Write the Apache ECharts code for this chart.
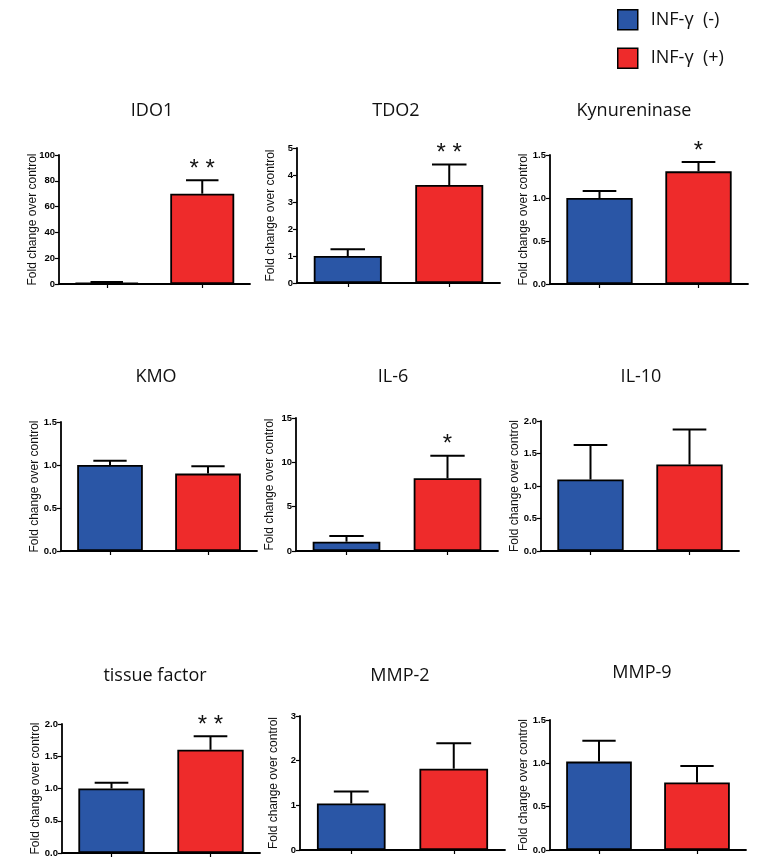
<!DOCTYPE html>
<html><head><meta charset="utf-8">
<script src="https://cdn.jsdelivr.net/npm/echarts@6/dist/echarts.min.js"></script>
<style>html,body{margin:0;padding:0;background:#fff}#c{width:764px;height:864px}</style>
</head><body><div id="c"></div>
<script>
// ---- data ----
const genes = ['IDO1', 'TDO2', 'Kynureninase', 'KMO', 'IL-6', 'IL-10', 'tissue factor', 'MMP-2', 'MMP-9'];
const groups = ['INF-\u03b3  (-)', 'INF-\u03b3  (+)'];
const categories = ['-', '+'];
const negMean = [1.0, 1.0, 1.0, 1.0, 1.05, 1.1, 1.0, 1.04, 1.02];
const negSem  = [0.6, 0.25, 0.08, 0.05, 0.65, 0.53, 0.09, 0.27, 0.24];
const posMean = [70, 3.63, 1.31, 0.9, 8.2, 1.33, 1.6, 1.82, 0.78];
const posSem  = [10.5, 0.76, 0.11, 0.085, 2.55, 0.54, 0.21, 0.57, 0.19];
const negSig  = ['', '', '', '', '', '', '', '', ''];
const posSig  = ['* *', '* *', '*', '', '*', '', '* *', '', ''];
const yMax    = [100, 5, 1.5, 1.5, 15, 2, 2, 3, 1.5];
const yStep   = [20, 1, 0.5, 0.5, 5, 0.5, 0.5, 1, 0.5];
const yDecimals = [0, 0, 1, 1, 0, 1, 1, 0, 1];
const yName = 'Fold change over control';

// ---- layout ----
const layout = [
  {left: 59,  top: 155, width: 191, height: 129, tx: 147, ty: 97},
  {left: 297, top: 148, width: 203, height: 135, tx: 391, ty: 97},
  {left: 550, top: 155, width: 198, height: 129, tx: 629, ty: 97},
  {left: 61,  top: 422, width: 196, height: 129, tx: 151, ty: 363},
  {left: 296, top: 418, width: 202, height: 133, tx: 388, ty: 363},
  {left: 541, top: 421, width: 198, height: 130, tx: 636, ty: 363},
  {left: 62,  top: 724, width: 198, height: 129, tx: 150, ty: 662},
  {left: 300, top: 716, width: 205, height: 134, tx: 395, ty: 662},
  {left: 550, top: 720, width: 196, height: 130, tx: 637, ty: 659}
];
const BLUE = '#2a56a6', RED = '#ee2b2b';
const AXW = 1.8;

const grids = [], xAxes = [], yAxes = [], series = [], titles = [];
genes.forEach((g, i) => {
  const L = layout[i];
  grids.push({left: L.left, top: L.top, width: L.width, height: L.height, containLabel: false});
  titles.push({text: g, left: L.tx, top: L.ty, textAlign: 'center',
    textStyle: {fontFamily: 'Open Sans', fontWeight: 'normal', fontSize: 18, color: '#111'}});
  xAxes.push({type: 'category', gridIndex: i, data: categories, boundaryGap: true,
    axisLine: {lineStyle: {color: '#000', width: AXW}},
    axisTick: {show: true, alignWithLabel: true, length: 4, lineStyle: {color: '#000', width: 1.2}},
    axisLabel: {show: false}, splitLine: {show: false}});
  yAxes.push({type: 'value', gridIndex: i, min: 0, max: yMax[i], interval: yStep[i],
    name: yName, nameLocation: 'middle', nameRotate: 90, nameGap: 20, nameMoveOverlap: false,
    nameTextStyle: {fontFamily: 'Liberation Sans', fontSize: 12, color: '#111'},
    axisLine: {show: true, lineStyle: {color: '#000', width: AXW}},
    axisTick: {show: true, length: 4, inside: false, lineStyle: {color: '#000', width: 1.2}},
    axisLabel: {margin: 4, fontFamily: 'Liberation Sans', fontWeight: 'bold', fontSize: 9.5, color: '#000',
      formatter: v => v.toFixed(yDecimals[i])},
    splitLine: {show: false}});
  series.push({type: 'bar', name: groups[0], xAxisIndex: i, yAxisIndex: i,
    data: [negMean[i], null], barWidth: '67%', barGap: '-100%',
    itemStyle: {color: BLUE, borderColor: '#000', borderWidth: AXW}});
  series.push({type: 'bar', name: groups[1], xAxisIndex: i, yAxisIndex: i,
    data: [null, posMean[i]], barWidth: '67%', barGap: '-100%',
    itemStyle: {color: RED, borderColor: '#000', borderWidth: AXW}});
  series.push({type: 'custom', xAxisIndex: i, yAxisIndex: i, z: 5, silent: true,
    encode: {x: 0, y: 1},
    data: [[0, negMean[i], negSem[i]], [1, posMean[i], posSem[i]]],
    renderItem: function (params, api) {
      const xi = api.value(0), m = api.value(1), s = api.value(2);
      const p0 = api.coord([xi, m]);
      const p1 = api.coord([xi, m + s]);
      const band = api.size([1, 0])[0];
      const hw = band * 0.17;
      const children = [
        {type: 'line', shape: {x1: p0[0], y1: p0[1], x2: p1[0], y2: p1[1]}, style: {stroke: '#000', lineWidth: 2}},
        {type: 'line', shape: {x1: p1[0] - hw, y1: p1[1], x2: p1[0] + hw, y2: p1[1]}, style: {stroke: '#000', lineWidth: 2}}
      ];
      const sig = (params.dataIndex === 0 ? negSig : posSig)[i];
      if (sig) {
        children.push({type: 'text', style: {text: sig, x: p1[0], y: p1[1] + 1,
          align: 'center', verticalAlign: 'bottom', textAlign: 'center', textVerticalAlign: 'bottom',
          fontSize: 24, fontFamily: 'Liberation Sans', fill: '#111'}});
      }
      return {type: 'group', children: children};
    }});
});

const chart = echarts.init(document.getElementById('c'));
chart.setOption({
  animation: false,
  backgroundColor: '#fff',
  title: titles,
  legend: {data: groups, orient: 'vertical', left: 612, top: 4, itemWidth: 20, itemHeight: 20, itemGap: 17,
    icon: 'rect', selectedMode: false,
    itemStyle: {borderColor: '#000', borderWidth: 1.5},
    textStyle: {fontFamily: 'Open Sans', fontSize: 18, color: '#111', padding: [0, 0, 0, 8]}},
  grid: grids, xAxis: xAxes, yAxis: yAxes, series: series
});
</script></body></html>
